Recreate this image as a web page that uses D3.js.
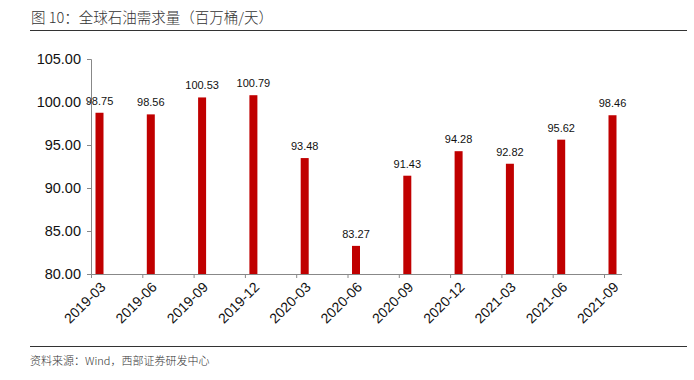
<!DOCTYPE html>
<html>
<head>
<meta charset="utf-8">
<style>
  body { margin: 0; background: #fff; }
  svg { display: block; }
  .num { font-family: "Liberation Sans", Arial, sans-serif; }
  .cjk { font-family: "Noto Sans CJK SC", sans-serif; }
</style>
</head>
<body>
<div id="chart"></div>
<script src="https://d3js.org/d3.v7.min.js"></script>
<script>
// data
const categories = ["2019-03", "2019-06", "2019-09", "2019-12", "2020-03", "2020-06",
                    "2020-09", "2020-12", "2021-03", "2021-06", "2021-09"];
const demand = [98.75, 98.56, 100.53, 100.79, 93.48, 83.27, 91.43, 94.28, 92.82, 95.62, 98.46];
const yTicks = [80, 85, 90, 95, 100, 105];

const width = 694, height = 380;
const svg = d3.select("#chart").append("svg")
    .attr("width", width)
    .attr("height", height);

// title + rules
svg.append("text")
    .attr("class", "cjk")
    .attr("x", 31).attr("y", 23)
    .attr("font-size", 14.5)
    .attr("font-weight", 300)
    .attr("fill", "#333")
    .text("图 10：全球石油需求量（百万桶/天）");
svg.append("line")
    .attr("x1", 30).attr("x2", 687).attr("y1", 30.5).attr("y2", 30.5)
    .attr("stroke", "#333").attr("stroke-width", 1.2);
svg.append("line")
    .attr("x1", 30).attr("x2", 687).attr("y1", 346.5).attr("y2", 346.5)
    .attr("stroke", "#333").attr("stroke-width", 1.2);
svg.append("text")
    .attr("class", "cjk")
    .attr("x", 30).attr("y", 365)
    .attr("font-size", 11)
    .attr("font-weight", 300)
    .attr("fill", "#333")
    .text("资料来源：Wind，西部证券研发中心");

// scales
const x = d3.scalePoint().domain(categories).range([91, 604]);
const y = d3.scaleLinear().domain([80, 105]).range([274, 59]);
const barOffset = 4.5, barW = 8;

// y axis
const yAxis = svg.append("g")
    .attr("transform", "translate(91,0)")
    .call(d3.axisLeft(y).tickValues(yTicks).tickFormat(d3.format(".2f")).tickSize(4).tickPadding(6));
yAxis.select(".domain").attr("stroke", "#888");
yAxis.selectAll(".tick line").attr("stroke", "#888");
yAxis.selectAll(".tick text")
    .attr("class", "num")
    .attr("font-size", 14.5)
    .attr("fill", "#111");

// bars
svg.selectAll("rect.bar")
    .data(demand)
    .join("rect")
    .attr("class", "bar")
    .attr("x", (d, i) => x(categories[i]) + barOffset)
    .attr("width", barW)
    .attr("y", d => y(d))
    .attr("height", d => y(80) - y(d))
    .attr("fill", "#c00000");

// value labels
svg.selectAll("text.val")
    .data(demand)
    .join("text")
    .attr("class", "val num")
    .attr("x", (d, i) => x(categories[i]) + barOffset + barW / 2)
    .attr("y", d => y(d) - 8)
    .attr("text-anchor", "middle")
    .attr("font-size", 11)
    .attr("fill", "#111")
    .text(d => d.toFixed(2));

// x axis
const xAxis = svg.append("g")
    .attr("transform", "translate(0,274)")
    .call(d3.axisBottom(x).tickSize(4).tickSizeOuter(0));
xAxis.select(".domain").attr("d", "M91,0.5H622").attr("stroke", "#888");
xAxis.selectAll(".tick line").attr("stroke", "#888");
xAxis.selectAll(".tick text")
    .attr("class", "num")
    .attr("font-size", 14)
    .attr("fill", "#111")
    .attr("text-anchor", "end")
    .attr("dy", 0)
    .attr("transform", "translate(10,9) rotate(-45)");
</script>
</body>
</html>
